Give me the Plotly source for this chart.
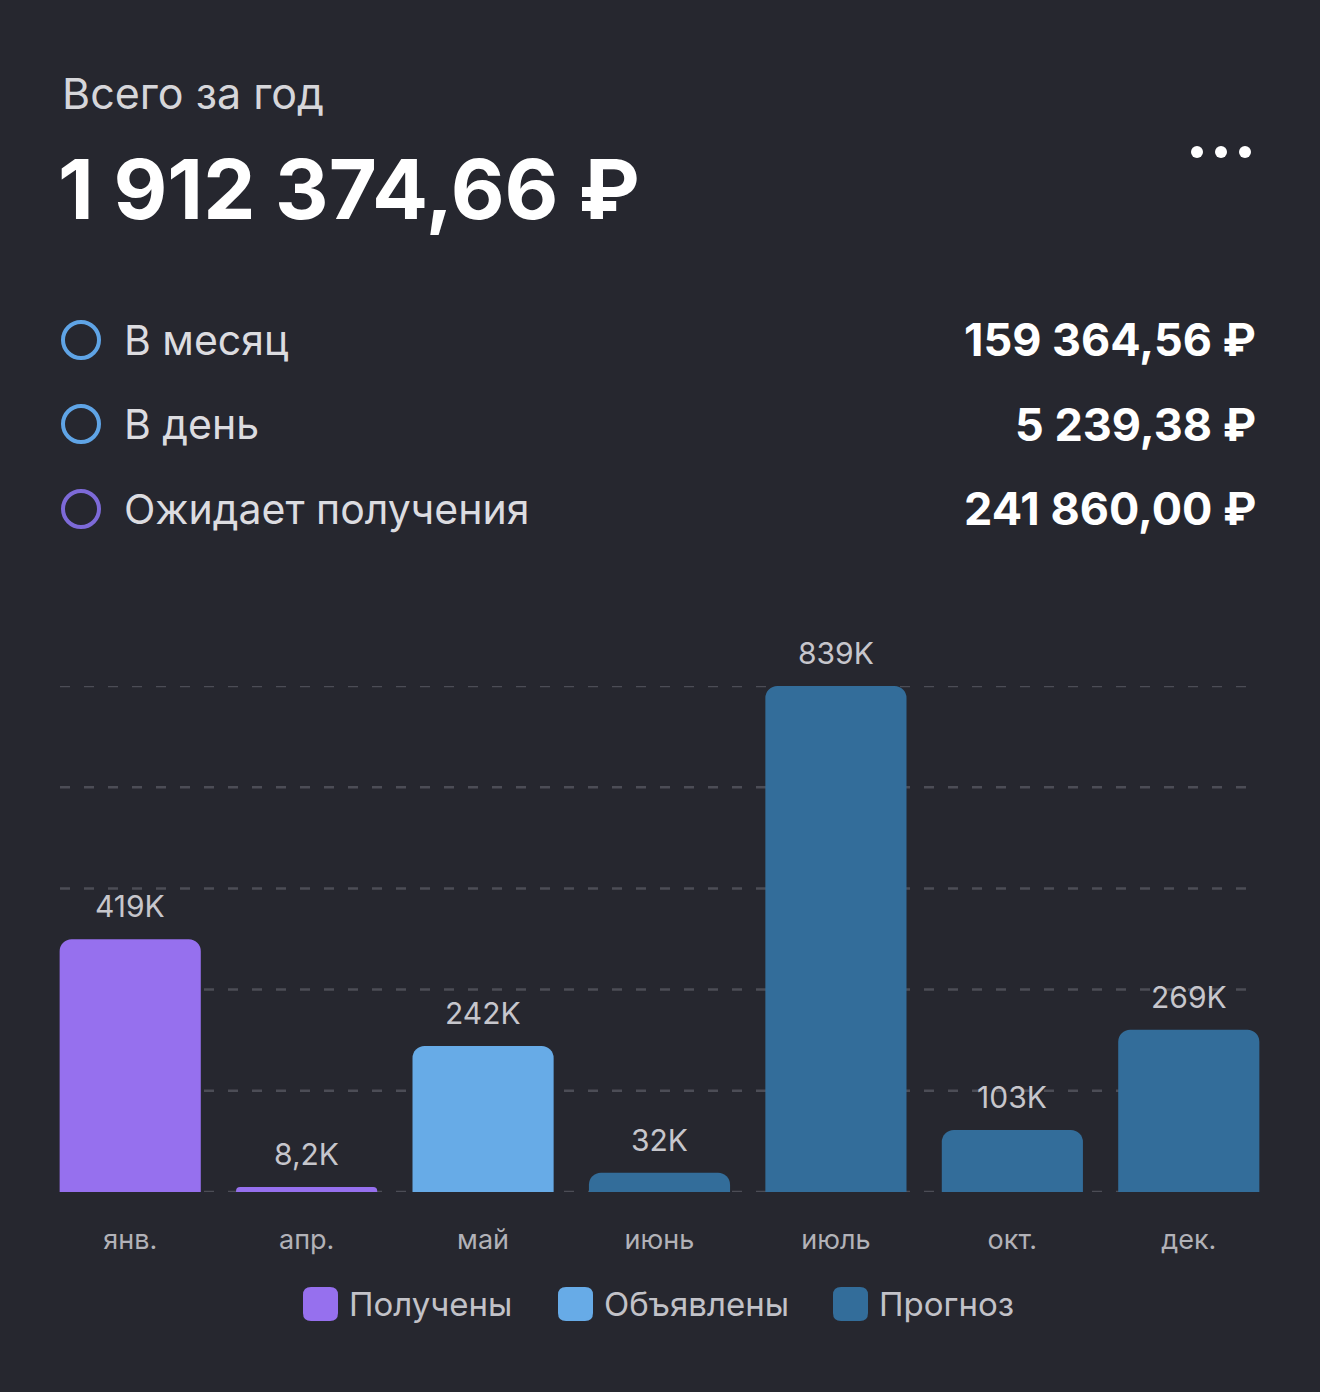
import plotly.graph_objects as go

W, H = 1320, 1392

# ---- data ----
months = ["янв.", "апр.", "май", "июнь", "июль", "окт.", "дек."]
received = [419000, 8200, None, None, None, None, None]
announced = [None, None, 242000, None, None, None, None]
forecast = [None, None, None, 32000, 839000, 103000, 269000]
bar_labels = ["419K", "8,2K", "242K", "32K", "839K", "103K", "269K"]
grid_values = [0, 167800, 335600, 503400, 671200, 839000]

series_names = ["Получены", "Объявлены", "Прогноз"]
series_colors = ["#9670EE", "#67ABE7", "#336D9A"]

title_text = "Всего за год"
total_text = "1 912 374,66 ₽"
row_labels = ["В месяц", "В день", "Ожидает получения"]
row_values = ["159 364,56 ₽", "5 239,38 ₽", "241 860,00 ₽"]
row_colors = ["#5FA4E6", "#5FA4E6", "#7D6AD8"]

BG = "#26272F"
FONT = "Inter"


def px(x):
    return x / W


def py(y):
    return 1 - y / H


def rounded_rect(x0, y0, x1, y1, r):
    pts = [
        f"M {px(x0 + r)},{py(y0)}",
        f"L {px(x1 - r)},{py(y0)}",
        f"Q {px(x1)},{py(y0)} {px(x1)},{py(y0 + r)}",
        f"L {px(x1)},{py(y1 - r)}",
        f"Q {px(x1)},{py(y1)} {px(x1 - r)},{py(y1)}",
        f"L {px(x0 + r)},{py(y1)}",
        f"Q {px(x0)},{py(y1)} {px(x0)},{py(y1 - r)}",
        f"L {px(x0)},{py(y0 + r)}",
        f"Q {px(x0)},{py(y0)} {px(x0 + r)},{py(y0)}",
        "Z",
    ]
    return " ".join(pts)


fig = go.Figure()
for name, vals, col in zip(series_names, [received, announced, forecast], series_colors):
    fig.add_trace(
        go.Bar(
            x=months,
            y=vals,
            name=name,
            marker=dict(color=col, cornerradius=12, line=dict(width=0)),
            showlegend=False,
            hoverinfo="skip",
        )
    )

shapes = []
annotations = []

# dashed gridlines
for g in grid_values:
    shapes.append(
        dict(
            type="line", xref="paper", yref="y",
            x0=px(60), x1=px(1248), y0=g, y1=g,
            line=dict(color="#4C4D56", width=2.5, dash="10px,14px"),
            layer="below",
        )
    )

# bar value labels
all_vals = [r if r is not None else (a if a is not None else f)
            for r, a, f in zip(received, announced, forecast)]
for m, v, t in zip(months, all_vals, bar_labels):
    annotations.append(
        dict(
            x=m, y=v, xref="x", yref="y", text=t, showarrow=False,
            yanchor="middle", yshift=33,
            font=dict(family=FONT, size=30, color="#C6C6CC"),
        )
    )

# header
annotations.append(dict(
    x=px(60), y=py(93), xref="paper", yref="paper", text=title_text,
    showarrow=False, xanchor="left", yanchor="middle",
    font=dict(family=FONT, size=43, color="#D6D6DA"),
))
annotations.append(dict(
    x=px(56), y=py(189), xref="paper", yref="paper", text=f"<b>{total_text}</b>",
    showarrow=False, xanchor="left", yanchor="middle",
    font=dict(family=FONT, size=83, color="#FFFFFF"),
))

# ellipsis
for cx in [1197, 1221, 1245]:
    shapes.append(dict(
        type="circle", xref="paper", yref="paper",
        x0=px(cx - 6), x1=px(cx + 6), y0=py(152 + 6), y1=py(152 - 6),
        fillcolor="#FFFFFF", line=dict(width=0),
    ))

# summary rows
row_y = [340, 424, 509]
for lab, val, col, yy in zip(row_labels, row_values, row_colors, row_y):
    shapes.append(dict(
        type="circle", xref="paper", yref="paper",
        x0=px(81 - 18), x1=px(81 + 18), y0=py(yy + 18), y1=py(yy - 18),
        line=dict(color=col, width=4), fillcolor="rgba(0,0,0,0)",
    ))
    annotations.append(dict(
        x=px(122), y=py(yy), xref="paper", yref="paper", text=lab,
        showarrow=False, xanchor="left", yanchor="middle",
        font=dict(family=FONT, size=41, color="#DCDCE0"),
    ))
    annotations.append(dict(
        x=px(1258), y=py(yy), xref="paper", yref="paper", text=f"<b>{val}</b>",
        showarrow=False, xanchor="right", yanchor="middle",
        font=dict(family=FONT, size=45, color="#FFFFFF"),
    ))

# custom legend
legend_sq_x = [303, 558, 833]
for name, col, sx in zip(series_names, series_colors, legend_sq_x):
    shapes.append(dict(
        type="path", xref="paper", yref="paper",
        path=rounded_rect(sx, 1287, sx + 35, 1321, 8),
        fillcolor=col, line=dict(width=0),
    ))
    annotations.append(dict(
        x=px(sx + 44), y=py(1304), xref="paper", yref="paper", text=name,
        showarrow=False, xanchor="left", yanchor="middle",
        font=dict(family=FONT, size=33, color="#C2C2C8"),
    ))

fig.update_layout(
    width=W, height=H,
    margin=dict(l=0, r=0, t=0, b=0),
    paper_bgcolor=BG, plot_bgcolor=BG,
    barmode="relative", bargap=0.2,
    shapes=shapes, annotations=annotations,
    showlegend=False,
    xaxis=dict(
        domain=[px(42), px(1277)],
        type="category",
        showgrid=False, zeroline=False, showline=False, ticks="",
        tickfont=dict(family=FONT, size=27, color="#B2B2B8"),
        ticklabelstandoff=29,
    ),
    yaxis=dict(
        domain=[py(1192), py(686)],
        range=[0, 839000],
        showgrid=False, zeroline=False, showline=False,
        showticklabels=False, ticks="",
    ),
)

fig.write_html("out.html")
